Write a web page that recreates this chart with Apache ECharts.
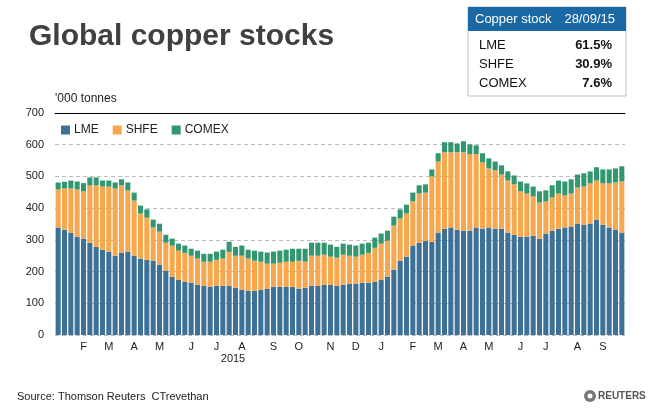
<!DOCTYPE html>
<html>
<head>
<meta charset="utf-8">
<script src="https://cdn.jsdelivr.net/npm/echarts@6/dist/echarts.min.js"></script>
<style>
html,body{margin:0;padding:0;background:#fff;}
#chart{width:652px;height:411px;}
</style>
</head>
<body>
<div id="chart"></div>
<script>
// Weekly dates (categories)
const weeks = ['2014-01-13','2014-01-20','2014-01-27','2014-02-03','2014-02-10','2014-02-17','2014-02-24','2014-03-03','2014-03-10','2014-03-17','2014-03-24','2014-03-31','2014-04-07','2014-04-14','2014-04-21','2014-04-28','2014-05-05','2014-05-12','2014-05-19','2014-05-26','2014-06-02','2014-06-09','2014-06-16','2014-06-23','2014-06-30','2014-07-07','2014-07-14','2014-07-21','2014-07-28','2014-08-04','2014-08-11','2014-08-18','2014-08-25','2014-09-01','2014-09-08','2014-09-15','2014-09-22','2014-09-29','2014-10-06','2014-10-13','2014-10-20','2014-10-27','2014-11-03','2014-11-10','2014-11-17','2014-11-24','2014-12-01','2014-12-08','2014-12-15','2014-12-22','2014-12-29',
'2015-01-05','2015-01-12','2015-01-19','2015-01-26','2015-02-02','2015-02-09','2015-02-16','2015-02-23','2015-03-02','2015-03-09','2015-03-16','2015-03-23','2015-03-30','2015-04-06','2015-04-13','2015-04-20','2015-04-27','2015-05-04','2015-05-11','2015-05-18','2015-05-25','2015-06-01','2015-06-08','2015-06-15','2015-06-22','2015-06-29','2015-07-06','2015-07-13','2015-07-20','2015-07-27','2015-08-03','2015-08-10','2015-08-17','2015-08-24','2015-08-31','2015-09-07','2015-09-14','2015-09-21','2015-09-28'];

// '000 tonnes
const lme = [339,332,323,310,304,291,278,269,263,250,
259,263,250,241,237,234,222,203,184,174,
168,165,158,155,152,155,155,155,149,142,
139,139,142,146,152,152,152,152,146,149,
155,155,158,158,155,158,161,161,165,165,
168,174,184,206,234,247,282,291,297,294,
323,335,339,332,329,329,339,335,339,335,
335,323,316,310,310,313,304,320,329,335,
339,342,351,348,351,364,348,339,332,323];

const shfe = [120,130,139,149,149,181,194,199,205,212,
213,193,174,142,133,105,104,88,98,92,
91,85,83,76,79,82,86,107,101,108,
102,95,89,79,73,76,79,79,88,82,
95,95,95,89,89,95,89,86,88,94,
107,114,113,139,133,136,139,155,152,206,
224,241,237,244,247,241,231,209,186,184,
171,164,159,143,136,124,114,101,105,111,
101,104,114,120,127,123,130,139,149,161];

const comex = [22,21,25,25,26,25,25,19,19,19,
19,25,25,25,26,25,25,25,22,22,
23,22,25,25,25,26,28,32,28,32,
28,32,32,35,38,38,38,41,38,41,
41,41,38,38,34,35,35,35,35,32,
32,32,32,28,29,28,28,26,26,22,
26,32,32,28,35,31,28,29,32,28,
29,29,28,31,32,31,35,35,38,41,
44,45,41,42,38,42,44,44,44,48];

// Month tick labels at category indices
const monthTickIndex = [4,8,12,16,21,25,29,34,38,43,47,51,56,60,64,68,73,77,82,86];
const monthTickLabels = ['F','M','A','M','J','J','A','S','O','N','D','J','F','M','A','M','J','J','A','S'];

const tableLabels = ['LME','SHFE','COMEX'];
const tableValues = ['61.5%','30.9%','7.6%'];

const FONT = "'Liberation Sans', Arial, sans-serif";
const chart = echarts.init(document.getElementById('chart'), null, {renderer:'canvas'});

const tableGraphics = [
  {type:'rect', shape:{x:468,y:7,width:158,height:89}, style:{fill:'#fff', stroke:'#bdbdbd', lineWidth:1}},
  {type:'rect', shape:{x:468,y:7,width:158,height:24}, style:{fill:'#1a69a5'}},
  {type:'text', x:475, y:19.5, style:{text:'Copper stock', fill:'#fff', font:'13px ' + FONT, textVerticalAlign:'middle'}},
  {type:'text', x:615, y:19.5, style:{text:'28/09/15', fill:'#fff', font:'13px ' + FONT, textAlign:'right', textVerticalAlign:'middle'}}
];
const rowY = [45.5, 64, 83];
tableLabels.forEach((lab, i) => {
  tableGraphics.push({type:'text', x:479, y:rowY[i], style:{text:lab, fill:'#111', font:'13px ' + FONT, textVerticalAlign:'middle'}});
  tableGraphics.push({type:'text', x:612, y:rowY[i], style:{text:tableValues[i], fill:'#111', font:'bold 13px ' + FONT, textAlign:'right', textVerticalAlign:'middle'}});
});

const option = {
  animation:false,
  backgroundColor:'#fff',
  textStyle:{fontFamily:FONT},
  title:{
    text:'Global copper stocks', left:24, top:17,
    textStyle:{fontSize:30, fontWeight:'bold', color:'#404040', fontFamily:FONT}
  },
  legend:{
    data:['LME','SHFE','COMEX'], left:56, top:119, icon:'rect',
    itemWidth:9, itemHeight:9, itemGap:14,
    textStyle:{fontSize:12, color:'#222', fontFamily:FONT, padding:[0,0,0,-1]}
  },
  grid:{left:55, right:27, top:113, bottom:76},
  xAxis:[{
    type:'category', data:weeks, position:'bottom',
    axisLine:{show:false}, axisTick:{show:false},
    axisLabel:{
      interval:(idx) => monthTickIndex.indexOf(idx) >= 0,
      formatter:(v, idx) => { const k = monthTickIndex.indexOf(idx); return k >= 0 ? monthTickLabels[k] : ''; },
      fontSize:11, color:'#222', margin:6, fontFamily:FONT
    },
    splitLine:{show:false}
  },{
    type:'category', data:weeks, position:'top',
    axisLine:{show:true, lineStyle:{color:'#000', width:1}},
    axisTick:{show:false}, axisLabel:{show:false}, splitLine:{show:false}
  }],
  yAxis:{
    type:'value', min:0, max:700, interval:100,
    axisLine:{show:false}, axisTick:{show:false},
    axisLabel:{fontSize:11, color:'#222', margin:11, fontFamily:FONT},
    splitLine:{show:true, showMaxLine:false, lineStyle:{color:'#bbbbbb', type:[4,3], width:1}}
  },
  series:[
    {name:'LME', type:'bar', stack:'s', data:lme, itemStyle:{color:'#3e7196'}, barCategoryGap:'20%'},
    {name:'SHFE', type:'bar', stack:'s', data:shfe, itemStyle:{color:'#f7a74e'}},
    {name:'COMEX', type:'bar', stack:'s', data:comex, itemStyle:{color:'#32966e'}}
  ],
  graphic:[
    {type:'text', x:55, y:99, style:{text:"'000 tonnes", fill:'#222', font:'12px ' + FONT, textVerticalAlign:'middle'}},
    {type:'text', x:233, y:359, style:{text:'2015', fill:'#222', font:'11px ' + FONT, textAlign:'center', textVerticalAlign:'middle'}},
    {type:'text', x:17, y:397, style:{text:'Source: Thomson Reuters  CTrevethan', fill:'#222', font:'11px ' + FONT, textVerticalAlign:'middle'}},
    {type:'circle', shape:{cx:590, cy:396, r:6}, style:{fill:'#777'}},
    {type:'circle', shape:{cx:590, cy:396, r:2.5}, style:{fill:'#fff'}},
    {type:'text', x:598, y:396, style:{text:'REUTERS', fill:'#555', font:'bold 10px ' + FONT, textVerticalAlign:'middle'}}
  ].concat(tableGraphics)
};
chart.setOption(option);
</script>
</body>
</html>
